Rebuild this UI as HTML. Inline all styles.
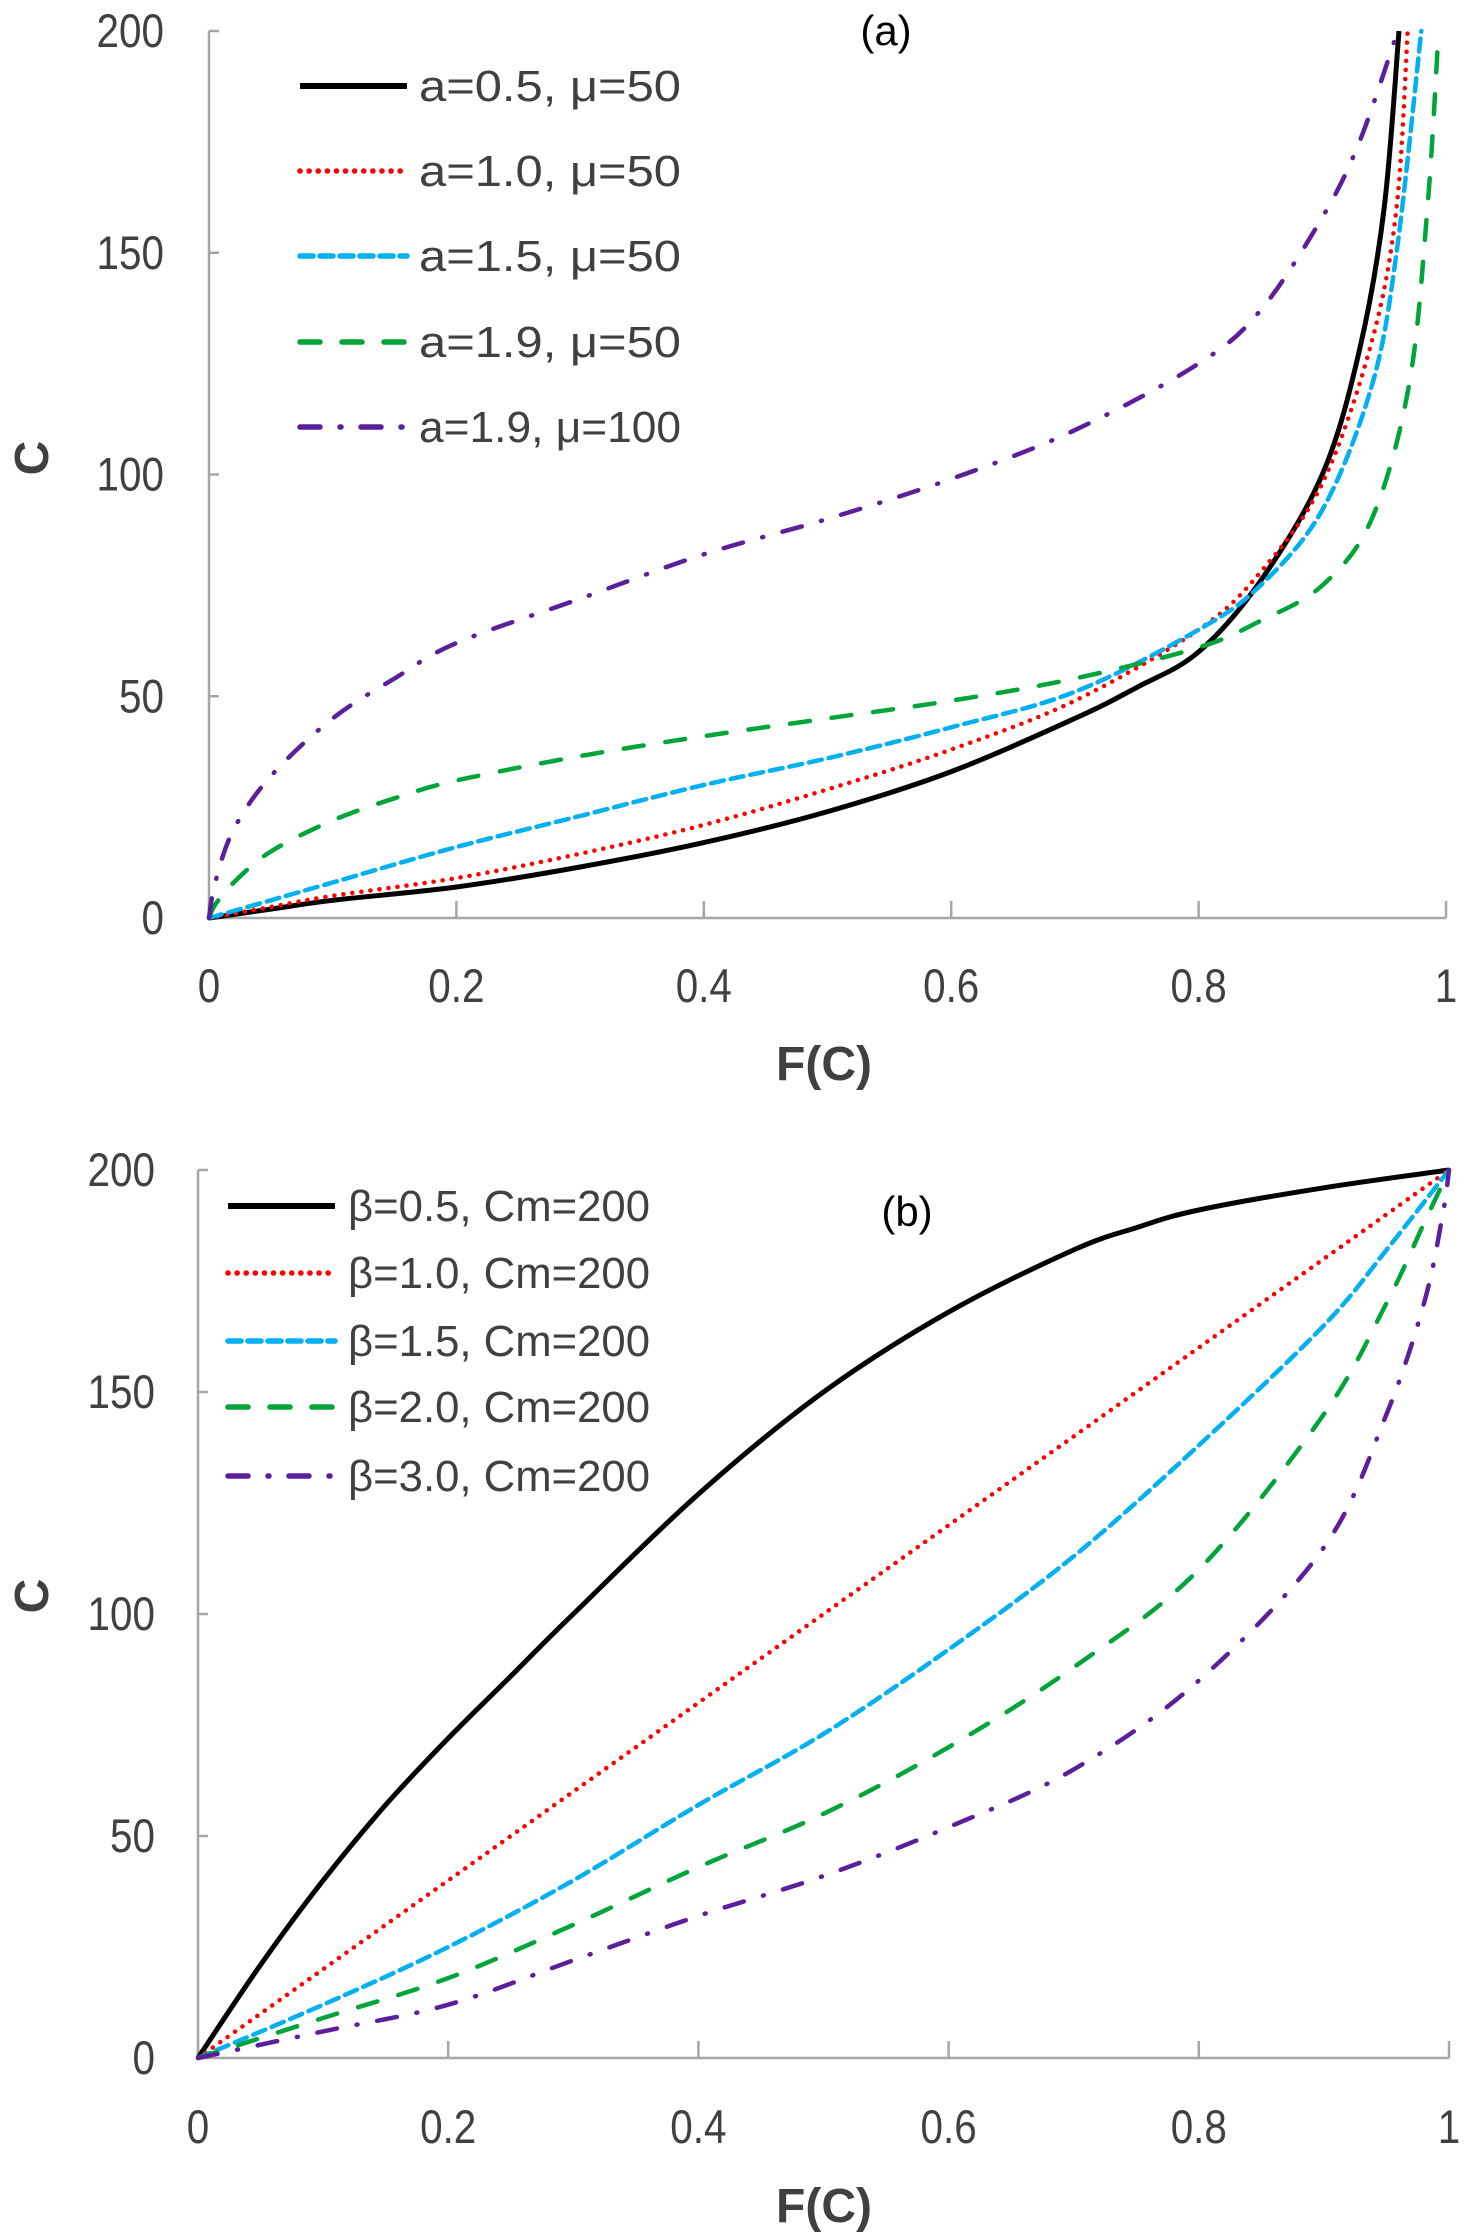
<!DOCTYPE html>
<html><head><meta charset="utf-8">
<style>
html,body{margin:0;padding:0;background:#fff;}
svg{display:block;}
text{font-family:"Liberation Sans Narrow","Liberation Sans",sans-serif;fill:#404040;}
</style></head>
<body>
<svg id="chart" width="1472" height="2239" viewBox="0 0 1472 2239" xmlns="http://www.w3.org/2000/svg"></svg>
<script>
// Panel (a) data
const aLabels = ["a=0.5, \u03bc=50","a=1.0, \u03bc=50","a=1.5, \u03bc=50","a=1.9, \u03bc=50","a=1.9, \u03bc=100"];
const aS1F = [0,0.05,0.1,0.2,0.3,0.4,0.5,0.6,0.7,0.75,0.8,0.85,0.9,0.93,0.95,0.962];
const aS1C = [0,2,4,7,11.5,17,24,33,45,52,60,76,100,128,160,200];
const aS2F = [0,0.05,0.1,0.2,0.3,0.4,0.5,0.6,0.7,0.8,0.85,0.9,0.94,0.96,0.969];
const aS2C = [0,2.5,5,9,14.5,21,29,38,49,65,78,98,130,160,200];
const aS3F = [0,0.05,0.1,0.2,0.3,0.4,0.5,0.6,0.7,0.8,0.85,0.9,0.94,0.96,0.98];
const aS3C = [0,4,8,16,23,30,36,43,51,65,75,92,120,150,200];
const aS4F = [0,0.005,0.02,0.05,0.1,0.15,0.2,0.3,0.4,0.5,0.6,0.7,0.8,0.85,0.9,0.94,0.97,0.985,0.994];
const aS4C = [0,3,8,15,22,27,31,36.5,41,45,49,54,61,67,75,90,120,160,200];
const aS5F = [0,0.005,0.02,0.05,0.1,0.15,0.2,0.3,0.4,0.5,0.6,0.7,0.8,0.85,0.9,0.93,0.961];
const aS5C = [0,8,20,32,45,54,62,72,82,90,99,110,125,137,158,175,200];
// Panel (b) data
const bLabels = ["\u03b2=0.5, Cm=200","\u03b2=1.0, Cm=200","\u03b2=1.5, Cm=200","\u03b2=2.0, Cm=200","\u03b2=3.0, Cm=200"];
const bS1F = [0,0.05,0.1,0.15,0.2,0.25,0.3,0.4,0.5,0.6,0.7,0.75,0.8,0.9,1];
const bS1C = [0,21,40,57,72,86,100,127,150,168,182,187,191,196,200];
const bS2F = [0,0.5,1];
const bS2C = [0,100,200];
const bS3F = [0,0.1,0.2,0.3,0.4,0.5,0.6,0.7,0.8,0.9,0.95,1];
const bS3C = [0,12,25,40,57,73,92,113,138,165,182,200];
const bS4F = [0,0.1,0.2,0.3,0.4,0.5,0.6,0.7,0.8,0.9,0.95,0.98,1];
const bS4C = [0,9,18,30,43,55,70,88,110,145,170,188,200];
const bS5F = [0,0.1,0.2,0.3,0.4,0.5,0.6,0.7,0.8,0.9,0.95,0.98,0.995,1];
const bS5C = [0,6,12,22,32,41,52,65,85,115,145,170,190,200];
const xTicks = ["0","0.2","0.4","0.6","0.8","1"];
const yTicks = ["0","50","100","150","200"];

const NS="http://www.w3.org/2000/svg";
const svg=document.getElementById('chart');
function mk(tag,attrs,parent){const e=document.createElementNS(NS,tag);for(const k in attrs)e.setAttribute(k,attrs[k]);(parent||svg).appendChild(e);return e;}

const styles=[
 {color:"#000000",dash:null,cap:"butt",w:5},
 {color:"#ff0000",dash:"0.1 9",cap:"round",w:4.5},
 {color:"#00b0f0",dash:"13 7",cap:"round",w:4.5},
 {color:"#00a53a",dash:"20 22",cap:"round",w:4.5},
 {color:"#5b1f9c",dash:"20 20 1 20",cap:"round",w:4.5}
];

function smoothPath(pts){
  let d="M"+pts[0][0].toFixed(1)+","+pts[0][1].toFixed(1);
  for(let i=0;i<pts.length-1;i++){
    const p0=pts[Math.max(0,i-1)],p1=pts[i],p2=pts[i+1],p3=pts[Math.min(pts.length-1,i+2)];
    const c1=[p1[0]+(p2[0]-p0[0])/6,p1[1]+(p2[1]-p0[1])/6];
    const c2=[p2[0]-(p3[0]-p1[0])/6,p2[1]-(p3[1]-p1[1])/6];
    d+=" C"+c1[0].toFixed(1)+","+c1[1].toFixed(1)+" "+c2[0].toFixed(1)+","+c2[1].toFixed(1)+" "+p2[0].toFixed(1)+","+p2[1].toFixed(1);
  }
  return d;
}

function panel(cfg){
  const g=mk('g',{});
  
  
  const xs=v=>cfg.x0+(cfg.x1-cfg.x0)*v;
  const ys=v=>cfg.yb-(cfg.yb-cfg.yt)*v/200;
  const ya=mk('line',{x1:cfg.x0,y1:cfg.yt,x2:cfg.x0,y2:cfg.yb,stroke:"#a6a6a6","stroke-width":2.5},g);
  
  
  const xa=mk('line',{x1:cfg.x0,y1:cfg.yb,x2:cfg.x1,y2:cfg.yb,stroke:"#a6a6a6","stroke-width":2.5},g);
  
  
  yTicks.forEach(t=>{
    const y=ys(+t);
    mk('line',{x1:cfg.x0,y1:y,x2:cfg.x0+10,y2:y,stroke:"#a6a6a6","stroke-width":2.5},g);
    const tx=mk('text',{x:0,y:0,"text-anchor":"end","font-size":47,transform:`translate(${cfg.tickR},${y+16}) scale(0.86,1)`},g);
    tx.textContent=t;
    
    
  });
  xTicks.forEach(t=>{
    const x=xs(+t);
    mk('line',{x1:x,y1:cfg.yb,x2:x,y2:cfg.yb-17,stroke:"#a6a6a6","stroke-width":2.5},g);
    const tx=mk('text',{x:0,y:0,"text-anchor":"middle","font-size":47,transform:`translate(${x},${cfg.xLabY+2}) scale(0.86,1)`},g);
    tx.textContent=t;
    
    
  });
  const xt=mk('text',{x:cfg.xTitleX,y:cfg.xTitleY,"text-anchor":"middle","font-size":48,"font-weight":"bold"},g);
  xt.textContent="F(C)";
  
  
  const yt=mk('text',{x:0,y:0,"text-anchor":"middle","font-size":48,"font-weight":"bold",transform:`translate(${cfg.yTitleX},${cfg.yTitleY}) rotate(-90)`},g);
  yt.textContent="C";
  
  
  const pl=mk('text',{x:cfg.tagX,y:cfg.tagY,"text-anchor":"middle","font-size":42,style:"fill:#000"},g);
  pl.textContent=cfg.tag;
  
  
  cfg.series.forEach((s,i)=>{
    const st=styles[i];
    const pts=s[0].map((f,j)=>[xs(f),ys(s[1][j])]);
    const a={d:smoothPath(pts),fill:"none",stroke:st.color,"stroke-width":st.w,"stroke-linecap":st.cap};
    if(st.dash)a["stroke-dasharray"]=st.dash;
    const p=mk('path',a,g);
    
    
    const ly=cfg.legY[i];
    const la={x1:cfg.legX0,y1:ly,x2:cfg.legX1,y2:ly,stroke:st.color,"stroke-width":st.w+1,"stroke-linecap":st.cap};
    if(st.dash)la["stroke-dasharray"]=st.dash;
    const ll=mk('line',la,g);
    
    
    const lt=mk('text',{x:cfg.legTX,y:ly+15,"font-size":44,textLength:cfg.legTW,lengthAdjust:"spacingAndGlyphs"},g);
    lt.textContent=cfg.labels[i];
    
    
  });
}

panel({name:"panel-a",x0:209,x1:1446,yt:31,yb:918,tickR:164,xLabY:1000,xTitleX:824,xTitleY:1080,yTitleX:48,yTitleY:458,
  tag:"(a)",tagX:886,tagY:45,
  series:[[aS1F,aS1C],[aS2F,aS2C],[aS3F,aS3C],[aS4F,aS4C],[aS5F,aS5C]],
  labels:aLabels,legY:[86,171,256,342,427],legX0:300,legX1:407,legTX:419,legTW:262});
panel({name:"panel-b",x0:198,x1:1449,yt:1170,yb:2058,tickR:155,xLabY:2141,xTitleX:824,xTitleY:2222,yTitleX:48,yTitleY:1596,
  tag:"(b)",tagX:907,tagY:1226,
  series:[[bS1F,bS1C],[bS2F,bS2C],[bS3F,bS3C],[bS4F,bS4C],[bS5F,bS5C]],
  labels:bLabels,legY:[1206,1273,1341,1407,1476],legX0:228,legX1:335,legTX:348,legTW:302});
</script>
</body></html>
